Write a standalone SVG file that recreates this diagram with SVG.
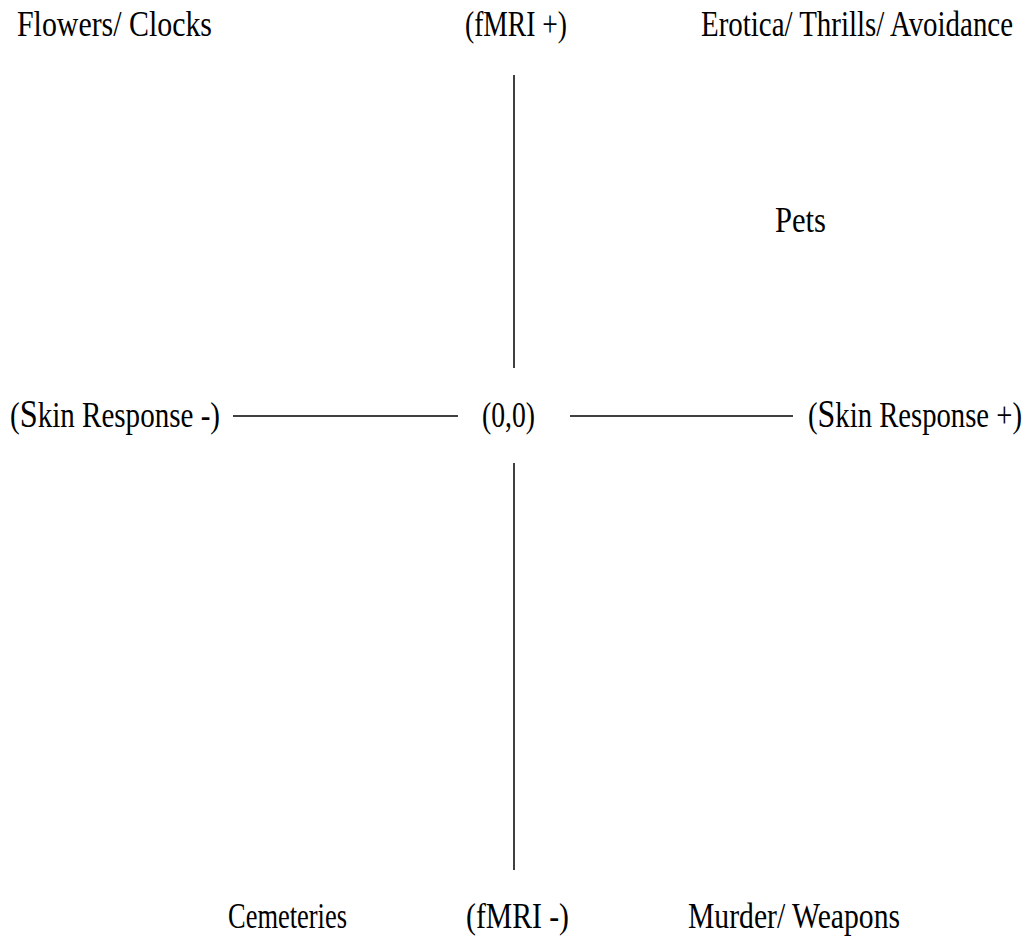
<svg xmlns="http://www.w3.org/2000/svg" width="1030" height="943" viewBox="0 0 1030 943">
<style>
text{font-family:"Liberation Serif","Times New Roman",serif;font-size:35px;fill:#000}
.big{font-size:39px}
line{stroke:#000;stroke-width:1.5}
</style>
<rect width="1030" height="943" fill="#fff"/>
<g id="flowers"><text x="17" y="36" textLength="195" lengthAdjust="spacingAndGlyphs">Flowers/ Clocks</text></g>
<g id="fmri-plus"><text x="465" y="36" textLength="102" lengthAdjust="spacingAndGlyphs">(fMRI +)</text></g>
<g id="erotica"><text x="701" y="36" textLength="312" lengthAdjust="spacingAndGlyphs">Erotica/ Thrills/ Avoidance</text></g>
<g id="pets"><text x="775" y="232" textLength="51" lengthAdjust="spacingAndGlyphs">Pets</text></g>
<g id="skin-minus"><text x="10" y="427" textLength="210" lengthAdjust="spacingAndGlyphs">(<tspan class="big">S</tspan>kin Response -)</text></g>
<g id="origin"><text x="482" y="427" textLength="53" lengthAdjust="spacingAndGlyphs">(0,0)</text></g>
<g id="skin-plus"><text x="808" y="427" textLength="214" lengthAdjust="spacingAndGlyphs">(<tspan class="big">S</tspan>kin Response +)</text></g>
<g id="cemeteries"><text x="228" y="928" textLength="119" lengthAdjust="spacingAndGlyphs">Cemeteries</text></g>
<g id="fmri-minus"><text x="466" y="928" textLength="103" lengthAdjust="spacingAndGlyphs">(fMRI -)</text></g>
<g id="murder"><text x="688" y="928" textLength="212" lengthAdjust="spacingAndGlyphs">Murder/ Weapons</text></g>
<g id="connectors">
<line x1="514" y1="75" x2="514" y2="368"/>
<line x1="514" y1="463" x2="514" y2="870"/>
<line x1="233" y1="416" x2="458" y2="416"/>
<line x1="570" y1="416" x2="793" y2="416"/>
</g>
</svg>
